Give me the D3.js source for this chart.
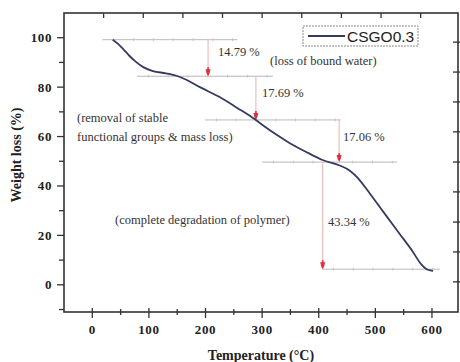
<!DOCTYPE html>
<html><head><meta charset="utf-8">
<script src="https://cdn.jsdelivr.net/npm/d3@7/dist/d3.min.js"></script>
<style>body{margin:0;background:#fff}svg{display:block}</style>
</head><body>
<svg id="c" width="460" height="362"></svg>
<script>
// ---- data ----
const temperature = [36, 45, 55, 65, 75, 90, 107, 130, 150, 167, 190, 225, 256, 284, 300, 325, 349, 380, 407, 437, 455, 470, 485, 502, 520, 543, 565, 580, 590, 597, 602];
const weight      = [99.2, 97.6, 95.3, 92.8, 90.6, 88.1, 86.5, 85.6, 84.5, 82.9, 80.0, 76.0, 71.6, 67.5, 64.8, 60.8, 57.3, 53.5, 50.5, 48.3, 46.2, 43.0, 38.6, 33.3, 27.7, 20.6, 13.8, 8.6, 6.4, 5.8, 5.6];
const seriesName = "CSGO0.3";
const xTicks = [0, 100, 200, 300, 400, 500, 600];
const xMinor = [50, 150, 250, 350, 450, 550];
const yTicks = [0, 20, 40, 60, 80, 100];
const yMinor = [-10, 10, 30, 50, 70, 90];
const topTicks = [20, 90, 160, 230, 300, 370, 440, 510, 580];
const rightTicks = [98.2, 86.1, 74.0, 61.9, 49.7, 37.6, 25.4, 13.3, 1.2];
// step levels (weight %) and the losses between them
const levels = [99.2, 84.41, 66.72, 49.66, 6.32];
const lossLabels = ["14.79 %", "17.69 %", "17.06 %", "43.34 %"];
const stepTemps = [204.5, 289, 436, 407];            // temperature of each drop arrow
const levelSpans = [[18, 256], [79, 319], [199, 439], [300, 538], [406, 614]];
const notes = ["(loss of bound water)", "(removal of stable", "functional groups & mass loss)", "(complete degradation of polymer)"];

// ---- chart ----
const svg = d3.select("#c");
const x = d3.scaleLinear().domain([-50, 646]).range([64, 458]);
const y = d3.scaleLinear().domain([-11, 110]).range([312, 13]);
const serif = "'Liberation Serif','Times New Roman',serif";

// annotation horizontal lines
svg.append("g").selectAll("line").data(levels).join("line")
  .attr("x1", (d,i) => x(levelSpans[i][0])).attr("x2", (d,i) => x(levelSpans[i][1]))
  .attr("y1", d => y(d)).attr("y2", d => y(d))
  .attr("stroke", "#b8b8b8").attr("stroke-width", 1);
levels.forEach((lv, i) => {
  const [a, b] = levelSpans[i];
  const marks = d3.range(a + 20, b, 35);
  svg.append("g").selectAll("line").data(marks).join("line")
    .attr("x1", d => x(d)).attr("x2", d => x(d))
    .attr("y1", y(lv) - 1.5).attr("y2", y(lv) + 1.5)
    .attr("stroke", "#c8c8c8").attr("stroke-width", 1);
});

// vertical drop lines with red arrowheads
stepTemps.forEach((t, i) => {
  const y0 = y(levels[i]), y1 = y(levels[i + 1]);
  svg.append("line").attr("x1", x(t)).attr("x2", x(t)).attr("y1", y0).attr("y2", y1 - 4)
    .attr("stroke", "#eab0b0").attr("stroke-width", 1);
  svg.append("path")
    .attr("d", `M${x(t)-2.5},${y1-7}L${x(t)+2.5},${y1-7}L${x(t)+1.5},${y1-3}L${x(t)},${y1}L${x(t)-1.5},${y1-3}Z`)
    .attr("fill", "#e0303a");
  svg.append("rect").attr("x", x(t) - 0.8).attr("y", y1 - 9).attr("width", 1.6).attr("height", 3).attr("fill", "#e0303a");
});

// curve
const pts = temperature.map((t, i) => [t, weight[i]]);
svg.append("path").datum(pts)
  .attr("fill", "none").attr("stroke", "#363a63").attr("stroke-width", 1.8)
  .attr("d", d3.line().x(d => x(d[0])).y(d => y(d[1])).curve(d3.curveMonotoneX));

// annotation texts
const tsize = "12.5px";
const labelPos = [[218, 56], [262, 97], [343, 141], [328, 226]];
lossLabels.forEach((s, i) => {
  svg.append("text").attr("x", labelPos[i][0]).attr("y", labelPos[i][1]).text(s)
    .attr("font-family", serif).attr("font-size", tsize).attr("fill", "#333");
});
const notePos = [[270, 65], [77, 122], [77, 141], [115, 224]];
notes.forEach((s, i) => {
  svg.append("text").attr("x", notePos[i][0]).attr("y", notePos[i][1]).text(s)
    .attr("font-family", serif).attr("font-size", tsize).attr("fill", "#333");
});

// frame
svg.append("rect").attr("x", 64).attr("y", 13).attr("width", 394).attr("height", 299)
  .attr("fill", "none").attr("stroke", "#333").attr("stroke-width", 1.6);

// ticks
const tick = (arr, f) => svg.append("g").selectAll("line").data(arr).join("line").each(f)
  .attr("stroke", "#333").attr("stroke-width", 1.3);
tick(xTicks, function(d){ d3.select(this).attr("x1", x(d)).attr("x2", x(d)).attr("y1", 308).attr("y2", 318); });
tick(xMinor, function(d){ d3.select(this).attr("x1", x(d)).attr("x2", x(d)).attr("y1", 309).attr("y2", 315); });
tick(yTicks, function(d){ d3.select(this).attr("x1", 57).attr("x2", 64).attr("y1", y(d)).attr("y2", y(d)); });
tick(yMinor, function(d){ d3.select(this).attr("x1", 59).attr("x2", 64).attr("y1", y(d)).attr("y2", y(d)); });
tick(topTicks, function(d){ d3.select(this).attr("x1", x(d)).attr("x2", x(d)).attr("y1", 13).attr("y2", 18); });
tick(rightTicks, function(d){ d3.select(this).attr("x1", 453).attr("x2", 460).attr("y1", y(d)).attr("y2", y(d)); });

// tick labels
svg.append("g").selectAll("text").data(xTicks).join("text")
  .attr("x", d => x(d)).attr("y", 334).attr("text-anchor", "middle").text(d => d)
  .attr("font-family", serif).attr("font-weight", "bold").attr("font-size", "13px")
  .attr("letter-spacing", "0.6px").attr("fill", "#222");
svg.append("g").selectAll("text").data(yTicks).join("text")
  .attr("x", 52).attr("y", d => y(d) + 4.5).attr("text-anchor", "end").text(d => d)
  .attr("font-family", serif).attr("font-weight", "bold").attr("font-size", "13px")
  .attr("letter-spacing", "0.6px").attr("fill", "#222");

// axis titles
svg.append("text").attr("x", 261).attr("y", 360).attr("text-anchor", "middle").text("Temperature (°C)")
  .attr("font-family", serif).attr("font-weight", "bold").attr("font-size", "14px").attr("fill", "#222");
svg.append("text").attr("transform", "translate(21,155) rotate(-90)").attr("text-anchor", "middle").text("Weight loss (%)")
  .attr("font-family", serif).attr("font-weight", "bold").attr("font-size", "14px").attr("fill", "#222");

// legend
const lg = svg.append("g");
lg.append("rect").attr("x", 303).attr("y", 26).attr("width", 115).attr("height", 20)
  .attr("fill", "#fff").attr("stroke", "#888").attr("stroke-width", 1).attr("stroke-dasharray", "2,1");
lg.append("line").attr("x1", 308).attr("x2", 345).attr("y1", 36).attr("y2", 36)
  .attr("stroke", "#363a63").attr("stroke-width", 2);
lg.append("text").attr("x", 347).attr("y", 42).text(seriesName)
  .attr("font-family", "'Liberation Sans',Arial,sans-serif").attr("font-size", "15.5px").attr("fill", "#222");
</script>
</body></html>
